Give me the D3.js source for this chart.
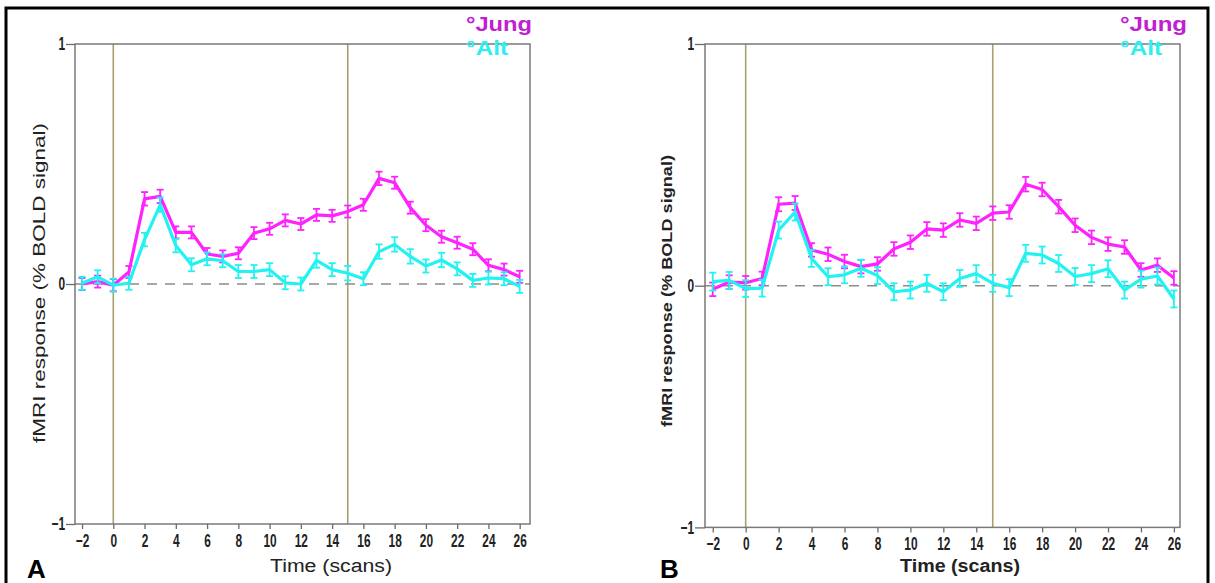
<!DOCTYPE html>
<html>
<head>
<meta charset="utf-8">
<script src="https://cdn.jsdelivr.net/npm/d3@7/dist/d3.min.js"></script>
<style>
  body { margin: 0; background: #fff; }
  svg { display: block; font-family: "Liberation Sans", Arial, Helvetica, sans-serif; }
</style>
</head>
<body>
<svg id="fig" width="1215" height="583"></svg>
<script>
// Time points (scans relative to stimulus onset)
const scans = [-2, -1, 0, 1, 2, 3, 4, 5, 6, 7, 8, 9, 10, 11, 12, 13, 14, 15, 16, 17, 18, 19, 20, 21, 22, 23, 24, 25, 26];

// Panel A: mean % BOLD signal change
const jungA = [0.00, 0.01, -0.005, 0.05, 0.355, 0.365, 0.215, 0.215, 0.125, 0.115, 0.128, 0.212, 0.23, 0.265, 0.25,
               0.288, 0.284, 0.302, 0.33, 0.44, 0.422, 0.318, 0.245, 0.197, 0.172, 0.145, 0.078, 0.06, 0.03];
const altA  = [0.003, 0.03, -0.005, 0.003, 0.185, 0.33, 0.16, 0.08, 0.105, 0.097, 0.052, 0.052, 0.06, 0.005, 0.0,
               0.098, 0.06, 0.045, 0.022, 0.135, 0.165, 0.115, 0.075, 0.1, 0.063, 0.015, 0.025, 0.022, -0.01];
const seJungA = [0.025, 0.025, 0.025, 0.025, 0.028, 0.028, 0.025, 0.025, 0.025, 0.025, 0.025, 0.025, 0.025, 0.025, 0.025,
                 0.025, 0.025, 0.025, 0.025, 0.028, 0.025, 0.025, 0.025, 0.025, 0.025, 0.025, 0.025, 0.025, 0.025];
const seAltA  = [0.027, 0.027, 0.027, 0.027, 0.028, 0.03, 0.028, 0.027, 0.027, 0.027, 0.027, 0.027, 0.027, 0.027, 0.027,
                 0.03, 0.027, 0.03, 0.027, 0.03, 0.03, 0.03, 0.027, 0.03, 0.027, 0.027, 0.027, 0.027, 0.027];

// Panel B: mean % BOLD signal change
const jungB = [-0.015, 0.015, 0.012, 0.03, 0.337, 0.342, 0.148, 0.13, 0.1, 0.079, 0.09, 0.152, 0.18, 0.235, 0.23,
               0.272, 0.258, 0.3, 0.305, 0.42, 0.398, 0.327, 0.25, 0.2, 0.172, 0.16, 0.065, 0.085, 0.032];
const altB  = [0.017, 0.022, -0.012, -0.01, 0.23, 0.305, 0.113, 0.037, 0.045, 0.072, 0.042, -0.025, -0.018, 0.01, -0.025,
               0.03, 0.05, 0.01, -0.008, 0.134, 0.127, 0.092, 0.038, 0.05, 0.07, -0.018, 0.027, 0.04, -0.055];
const seJungB = [0.028, 0.028, 0.028, 0.028, 0.029, 0.029, 0.028, 0.028, 0.028, 0.028, 0.028, 0.028, 0.028, 0.028, 0.028,
                 0.028, 0.028, 0.028, 0.028, 0.03, 0.028, 0.028, 0.028, 0.028, 0.028, 0.028, 0.028, 0.028, 0.028];
const seAltB  = [0.037, 0.035, 0.035, 0.035, 0.035, 0.035, 0.035, 0.035, 0.035, 0.035, 0.035, 0.035, 0.035, 0.035, 0.035,
                 0.035, 0.035, 0.035, 0.035, 0.035, 0.035, 0.035, 0.035, 0.035, 0.035, 0.035, 0.035, 0.035, 0.035];

// Axis ticks and event markers
const xTicks = [-2, 0, 2, 4, 6, 8, 10, 12, 14, 16, 18, 20, 22, 24, 26];
const yTicks = [-1, 0, 1];
const eventTimes = [0, 15];
const groupNames = ["\u00B0Jung", "\u00B0Alt"];

const colJung = "#ff22ff", colAlt = "#22f2f2";
const legJung = "#c020d0", legAlt = "#30eef0";
const tickScale = 0.66;

const svg = d3.select("#fig");

// outer frame
svg.append("path")
  .attr("d", "M6,583 L6,8 L1208,8 L1208,583")
  .attr("fill", "none").attr("stroke", "#000").attr("stroke-width", 3);

function drawPanel(cfg, jung, alt, seJ, seA) {
  const x = d3.scaleLinear().domain(cfg.xDomain).range([cfg.left, cfg.right]);
  const y = d3.scaleLinear().domain([-1, 1]).range([cfg.bottom, cfg.top]);
  const g = svg.append("g");

  // event markers
  g.selectAll("line.ev").data(eventTimes).join("line")
    .attr("x1", d => x(d)).attr("x2", d => x(d))
    .attr("y1", y(1)).attr("y2", y(-1))
    .attr("stroke", "#a8a070").attr("stroke-width", 1.6);

  // zero baseline
  g.append("line")
    .attr("x1", cfg.left).attr("x2", cfg.right)
    .attr("y1", y(0)).attr("y2", y(0))
    .attr("stroke", "#8c8c8c").attr("stroke-width", 1.5)
    .attr("stroke-dasharray", "10,8");

  // plot frame
  g.append("rect")
    .attr("x", cfg.left).attr("y", cfg.top)
    .attr("width", cfg.right - cfg.left).attr("height", cfg.bottom - cfg.top)
    .attr("fill", "none").attr("stroke", "#7a7a7a").attr("stroke-width", 1.5);

  const line = d3.line().x((d, i) => x(scans[i])).y(d => y(d));

  function series(vals, se, color) {
    const s = g.append("g");
    s.append("path").datum(vals).attr("d", line)
      .attr("fill", "none").attr("stroke", color).attr("stroke-width", 3.2)
      .attr("stroke-linejoin", "round");
    const cap = 3.5;
    const eb = s.selectAll("g.eb").data(vals).join("g");
    eb.append("line")
      .attr("x1", (d, i) => x(scans[i])).attr("x2", (d, i) => x(scans[i]))
      .attr("y1", (d, i) => y(d - se[i])).attr("y2", (d, i) => y(d + se[i]))
      .attr("stroke", color).attr("stroke-width", 1.8);
    eb.append("line")
      .attr("x1", (d, i) => x(scans[i]) - cap).attr("x2", (d, i) => x(scans[i]) + cap)
      .attr("y1", (d, i) => y(d + se[i])).attr("y2", (d, i) => y(d + se[i]))
      .attr("stroke", color).attr("stroke-width", 1.8);
    eb.append("line")
      .attr("x1", (d, i) => x(scans[i]) - cap).attr("x2", (d, i) => x(scans[i]) + cap)
      .attr("y1", (d, i) => y(d - se[i])).attr("y2", (d, i) => y(d - se[i]))
      .attr("stroke", color).attr("stroke-width", 1.8);
  }
  series(jung, seJ, colJung);
  series(alt, seA, colAlt);

  // x axis
  const xa = g.append("g").attr("transform", `translate(0,${cfg.bottom})`)
    .call(d3.axisBottom(x).tickValues(xTicks).tickSize(5).tickPadding(5).tickFormat(d3.format("d")));
  xa.select(".domain").remove();
  xa.selectAll(".tick line").attr("stroke", "#6a6a6a").attr("stroke-width", 1.3);
  xa.selectAll(".tick text")
    .attr("font-size", 18).attr("font-weight", "bold").attr("fill", "#222")
    .attr("font-family", "'Liberation Sans', Arial, sans-serif")
    .attr("transform", `scale(${tickScale},1)`);

  // y axis
  const ya = g.append("g").attr("transform", `translate(${cfg.left},0)`)
    .call(d3.axisLeft(y).tickValues(yTicks).tickSize(cfg.yTick).tickPadding(2).tickFormat(d3.format("d")));
  ya.select(".domain").remove();
  ya.selectAll(".tick line").attr("stroke", "#6a6a6a").attr("stroke-width", 1.3);
  ya.selectAll(".tick text")
    .attr("font-size", 18).attr("font-weight", "bold").attr("fill", "#222")
    .attr("font-family", "'Liberation Sans', Arial, sans-serif")
    .attr("x", -(cfg.yTick + 1) / tickScale)
    .attr("transform", `scale(${tickScale},1)`);

  // axis titles
  g.append("text")
    .attr("x", cfg.xLabelX).attr("y", cfg.xLabelY)
    .attr("text-anchor", "middle")
    .attr("font-size", 18).attr("font-weight", cfg.bold ? "bold" : "normal").attr("fill", "#222")
    .attr("textLength", cfg.xLabelLen).attr("lengthAdjust", "spacingAndGlyphs")
    .text("Time (scans)");

  g.append("text")
    .attr("transform", `translate(${cfg.yLabelX},${cfg.yLabelY}) rotate(-90)`)
    .attr("text-anchor", "middle")
    .attr("font-size", cfg.bold ? 15 : 17).attr("font-weight", cfg.bold ? "bold" : "normal").attr("fill", "#222")
    .attr("textLength", cfg.yLabelLen).attr("lengthAdjust", "spacingAndGlyphs")
    .text("fMRI response (% BOLD signal)");

  // legend
  const leg = g.append("g").attr("font-weight", "bold").attr("font-size", 20);
  leg.append("text").attr("x", cfg.legX).attr("y", 31).attr("fill", legJung)
    .attr("textLength", cfg.legLen[0]).attr("lengthAdjust", "spacingAndGlyphs").text(groupNames[0]);
  leg.append("text").attr("x", cfg.legX).attr("y", 55).attr("fill", legAlt)
    .attr("textLength", cfg.legLen[1]).attr("lengthAdjust", "spacingAndGlyphs").text(groupNames[1]);

  // panel letter
  g.append("text")
    .attr("x", cfg.letterX).attr("y", 578)
    .attr("font-size", 26).attr("font-weight", 900).attr("fill", "#000")
    .text(cfg.letter);
}

drawPanel({
  left: 75, right: 530, top: 44, bottom: 524, xDomain: [-2.45, 26.66], yTick: 9,
  xLabelX: 331, xLabelY: 572, xLabelLen: 122, bold: false,
  yLabelX: 45, yLabelY: 283, yLabelLen: 320,
  legX: 466, legLen: [66, 42], letter: "A", letterX: 27
}, jungA, altA, seJungA, seAltA);

drawPanel({
  left: 705, right: 1180, top: 44, bottom: 527.4, xDomain: [-2.47, 26.37], yTick: 10,
  xLabelX: 960, xLabelY: 572, xLabelLen: 120, bold: true,
  yLabelX: 672, yLabelY: 291, yLabelLen: 272,
  legX: 1120, legLen: [67, 42], letter: "B", letterX: 660
}, jungB, altB, seJungB, seAltB);
</script>
</body>
</html>
